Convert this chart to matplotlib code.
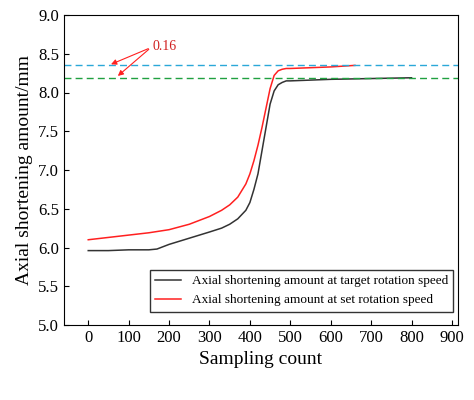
import matplotlib
matplotlib.use("Agg")
import matplotlib.pyplot as plt
import numpy as np

plt.rcParams['font.family'] = ['Liberation Serif']

x_black = [0, 50, 100, 150, 170, 200, 250, 300, 330, 350, 370, 390, 400, 410, 420, 430, 440, 450, 460, 470, 480, 490, 500, 550, 600, 700, 800]
y_black = [5.96, 5.96, 5.97, 5.97, 5.98, 6.04, 6.12, 6.2, 6.25, 6.3, 6.37, 6.48, 6.58, 6.75, 6.95, 7.25, 7.55, 7.85, 8.02, 8.1, 8.13, 8.15, 8.15, 8.16, 8.17, 8.18, 8.19]
x_red = [0, 50, 100, 150, 200, 250, 300, 330, 350, 370, 390, 400, 410, 420, 430, 440, 450, 460, 470, 480, 490, 500, 550, 600, 660]
y_red = [6.1, 6.13, 6.16, 6.19, 6.23, 6.3, 6.4, 6.48, 6.55, 6.65, 6.82, 6.95, 7.12, 7.32, 7.55, 7.8, 8.05, 8.22, 8.28, 8.3, 8.31, 8.31, 8.32, 8.33, 8.35]
level_set = 8.35
level_target = 8.19
xticks = list(range(0, 1000, 100))
yticks = [5.0, 5.5, 6.0, 6.5, 7.0, 7.5, 8.0, 8.5, 9.0]

fig = plt.figure(figsize=(4.74, 4.0), dpi=100)
ax = fig.add_axes([64/474, 75/400, 394/474, 310/400])
ax.plot(x_black, y_black, color='#333333', lw=1.1, label='Axial shortening amount at target rotation speed')
ax.plot(x_red, y_red, color='#ff2020', lw=1.1, label='Axial shortening amount at set rotation speed')
ax.axhline(level_set, color='#2aa8d8', ls=(0, (5, 3)), lw=1.0)
ax.axhline(level_target, color='#20a040', ls=(0, (5, 3)), lw=1.0)
for tx, ty in [(50, level_set), (68, level_target)]:
    ax.annotate('', xy=(tx, ty), xytext=(155, 8.58),
                arrowprops=dict(arrowstyle='-|>', color='#ff2020', lw=0.8, mutation_scale=8))
ax.text(160, 8.6, '0.16', color='#d02020', fontsize=10, va='center')
ax.set_xlim(-60, 915)
ax.set_ylim(5.0, 9.0)
ax.set_xticks(xticks)
ax.set_yticks(yticks)
ax.set_yticklabels([f'{v:.1f}' for v in yticks])
ax.tick_params(direction='in', labelsize=12)
ax.set_xlabel('Sampling count', fontsize=14)
ax.set_ylabel('Axial shortening amount/mm', fontsize=14)
ax.legend(loc='lower right', bbox_to_anchor=(0.995, 0.035), fontsize=9.5, frameon=True, fancybox=False,
          edgecolor='black', handlelength=2.0, borderaxespad=0.2)
fig.savefig('out.png', dpi=100)
